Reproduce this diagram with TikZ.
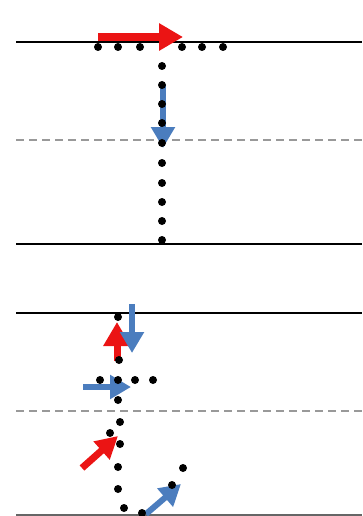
\documentclass[tikz,border=0pt]{standalone}
\usetikzlibrary{arrows.meta}
\definecolor{arrred}{RGB}{235,20,20}
\definecolor{arrblue}{RGB}{75,125,190}
\tikzset{
  solidline/.style={line width=2.6pt, black},
  dashline/.style={line width=1.3pt, color=black!40, dash pattern=on 8pt off 5pt},
  redarrow/.style={draw=arrred, line width=8pt, -{Triangle[length=24pt,width=26pt]}},
  bluearrow/.style={draw=arrblue, line width=6pt, -{Triangle[length=21pt,width=23pt]}},
  bead/.style={fill=black}
}
\begin{document}
\begin{tikzpicture}[x=1pt,y=-1pt]
\useasboundingbox (0,0) rectangle (362,516);
% lines
\draw[solidline] (16,42) -- (362,42);
\draw[dashline] (16,140) -- (362,140);
\draw[solidline] (16,244) -- (362,244);
\draw[solidline] (16,313) -- (362,313);
\draw[dashline] (16,411) -- (362,411);
\draw[line width=2pt, black!60] (16,515) -- (362,515);
% top panel
\coordinate (rA) at (98,37); \coordinate (rB) at (183,37);
\coordinate (bA) at (163,85); \coordinate (bB) at (163,148);
\draw[bluearrow] (bA) -- (bB);
\foreach \x in {98,118,140,182,202,223} \fill[bead] (\x,47) circle (4);
\foreach \y in {66,85,104,123,143,163,183,202,221,240} \fill[bead] (162,\y) circle (4);
\draw[redarrow] (rA) -- (rB);
% lower panel
\coordinate (r1A) at (117,361); \coordinate (r1B) at (117,322);
\coordinate (b1A) at (132,304); \coordinate (b1B) at (132,353);
\coordinate (b2A) at (83,387); \coordinate (b2B) at (131,387);
\coordinate (r2A) at (82,468); \coordinate (r2B) at (118,436);
\coordinate (b3A) at (146,514); \coordinate (b3B) at (181,484);
\draw[redarrow, line width=7pt] (r1A) -- (r1B);
\draw[bluearrow] (b1A) -- (b1B);
\draw[bluearrow] (b2A) -- (b2B);
\draw[redarrow, line width=7pt, -{Triangle[length=22pt,width=23pt]}] (r2A) -- (r2B);
\draw[bluearrow] (b3A) -- (b3B);
\foreach \x/\y in {118/317, 119/360, 100/380, 118/380, 135/380, 153/380, 118/400,
  120/422, 110/433, 120/444, 118/467, 118/489, 124/508, 142/513, 172/485, 183/468}
  \fill[bead] (\x,\y) circle (4);
\end{tikzpicture}
\end{document}
